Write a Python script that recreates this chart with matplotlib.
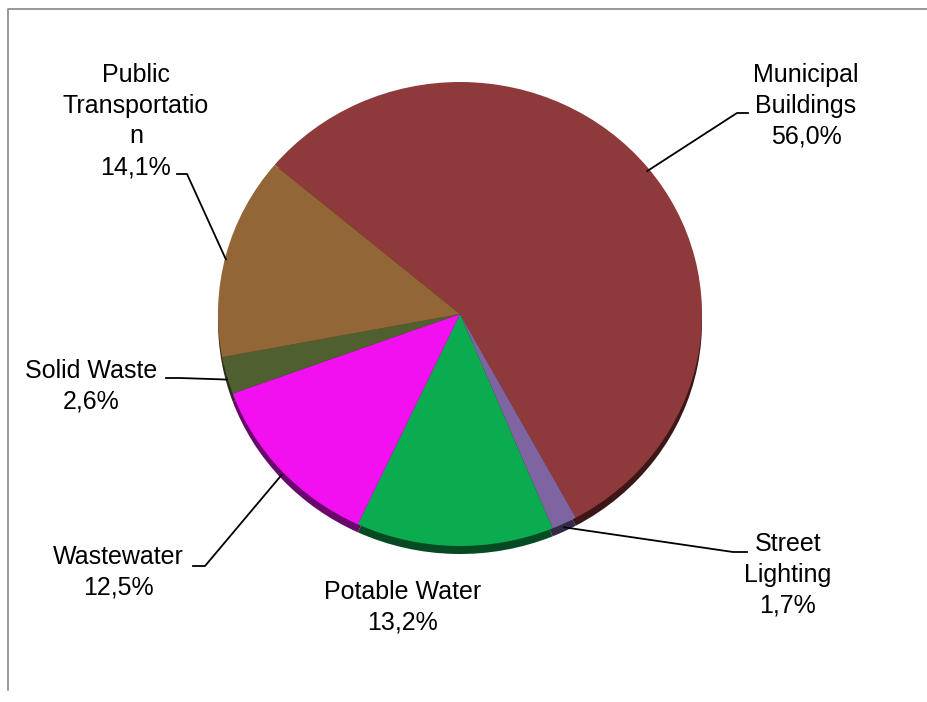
import numpy as np
import matplotlib
matplotlib.use('Agg')
import matplotlib.pyplot as plt

plt.rcParams['font.family'] = ['Liberation Sans', 'DejaVu Sans']

# energy use by sector, in the order the slices go round (clockwise)
sectors = ['Municipal\nBuildings', 'Street\nLighting', 'Potable Water',
           'Wastewater', 'Solid Waste', 'Public\nTransportatio\nn']
shares = [56.0, 1.7, 13.2, 12.5, 2.6, 14.1]
top_colors = ['#8f3a3a', '#7e64a0', '#0bab50', '#f20ff0', '#4f5f2f', '#936637']
side_colors = ['#3d1717', '#352a45', '#054a22', '#6a076c', '#27301a', '#4a331b']

# label block centres and leader bends, in pixels from the top left
label_pos = [(806, 106), (788, 575), (403, 607), (118, 572), (91, 386), (136, 121)]
leader_bend = [[(737, 113), (748, 113)], [(733, 552), (747, 552)], None,
               [(205, 566), (193, 566)], [(180, 378), (166, 378)],
               [(187, 174), (177, 174)]]

W, H = 927, 702
fig = plt.figure(figsize=(W / 100, H / 100), dpi=100)

# pie sits in its own axes so it can be squashed a little
cx, cy, rx, ry, dpx = 460, 314, 242, 232, 8
depth = dpx / ry
axp = fig.add_axes([(cx - rx) / W, (H - cy - ry - dpx) / H,
                    2 * rx / W, (2 * ry + dpx) / H])
axp.pie(shares, colors=side_colors, startangle=140, counterclock=False,
        radius=1, center=(0, -depth), frame=True,
        wedgeprops=dict(linewidth=0))
wedges, _ = axp.pie(shares, colors=top_colors, startangle=140, counterclock=False,
                    radius=1, center=(0, 0), frame=True,
                    wedgeprops=dict(linewidth=0))
axp.set_aspect('auto')
axp.set_xlim(-1, 1)
axp.set_ylim(-1 - depth, 1)
axp.axis('off')

# overlay in pixel coordinates for frame, leaders and labels
ax = fig.add_axes([0, 0, 1, 1], zorder=5)
ax.set_xlim(0, W)
ax.set_ylim(H, 0)
ax.patch.set_alpha(0)
ax.axis('off')

ax.plot([8, 8, W], [690, 9, 9], color='#888888', lw=1.2)

fig.canvas.draw()
to_pix = ax.transData.inverted()
for w, name, val, (lx, ly), bend in zip(wedges, sectors, shares, label_pos, leader_bend):
    mid = np.deg2rad((w.theta1 + w.theta2) / 2)
    text = name + '\n' + f'{val:.1f}'.replace('.', ',') + '%'
    ax.text(lx, ly, text, ha='center', va='center', fontsize=18,
            linespacing=1.36, color='black')
    if bend is None:
        continue
    disp = axp.transData.transform((np.cos(mid), np.sin(mid) - depth / 2))
    px, py = to_pix.transform(disp)
    xs = [px] + [b[0] for b in bend]
    ys = [py] + [b[1] for b in bend]
    ax.plot(xs, ys, color='black', lw=1.3)

fig.savefig('out.png', dpi=100)
